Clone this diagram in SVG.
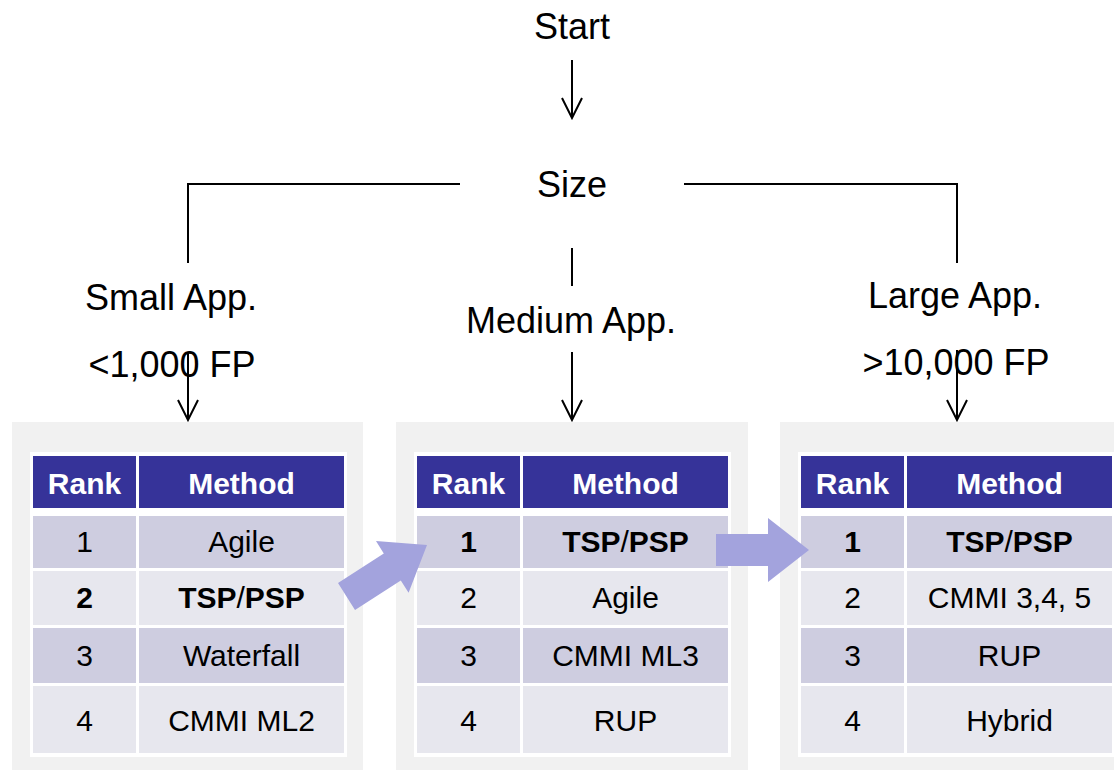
<svg xmlns="http://www.w3.org/2000/svg" width="1114" height="770" viewBox="0 0 1114 770">
<defs>
<style>
.lbl{font-family:"Liberation Sans",Arial,sans-serif;font-size:36px;fill:#000;text-anchor:middle}
.th{font-family:"Liberation Sans",Arial,sans-serif;font-size:30px;font-weight:bold;fill:#fff;text-anchor:middle}
.td{font-family:"Liberation Sans",Arial,sans-serif;font-size:30px;fill:#000;text-anchor:middle}
.b{font-weight:bold}
.n{font-weight:normal}
.panel{fill:#f1f1f1}
.tbl{fill:#ffffff}
.hd{fill:#363399}
.odd{fill:#cecde0}
.even{fill:#e7e7ee}
.ln{stroke:#000;stroke-width:2;fill:none}
.big{fill:#a3a3dd}
</style>
<marker id="v" viewBox="0 0 24 24" refX="22" refY="12" markerWidth="24" markerHeight="24" markerUnits="userSpaceOnUse" orient="auto">
<path d="M2,2 L22,12 L2,22" fill="none" stroke="#000" stroke-width="2"/>
</marker>
</defs>
<rect width="1114" height="770" fill="#fff"/>

<g id="start"><text class="lbl" x="572" y="39">Start</text></g>
<g id="size"><text class="lbl" x="572" y="197">Size</text></g>
<g id="small"><text class="lbl" x="171" y="310">Small App.</text><text class="lbl" x="172" y="377">&lt;1,000 FP</text></g>
<g id="medium"><text class="lbl" x="571" y="333">Medium App.</text></g>
<g id="large"><text class="lbl" x="955" y="308">Large App.</text><text class="lbl" x="956" y="375">&gt;10,000 FP</text></g>

<g id="connectors">
<path class="ln" d="M572,60 L572,118" marker-end="url(#v)"/>
<path class="ln" d="M460,184 L188,184 L188,263"/>
<path class="ln" d="M684,184 L957,184 L957,263"/>
<path class="ln" d="M572,248 L572,286"/>
<path class="ln" d="M188,352 L188,420" marker-end="url(#v)"/>
<path class="ln" d="M572,352 L572,420" marker-end="url(#v)"/>
<path class="ln" d="M957,350 L957,420" marker-end="url(#v)"/>
</g>

<g id="table-small">
<rect class="panel" x="12" y="422" width="351" height="348"/>
<rect class="tbl" x="30" y="452" width="317" height="305"/>
<rect class="hd" x="33" y="456" width="103" height="52"/><rect class="hd" x="139" y="456" width="205" height="52"/>
<rect class="odd" x="33" y="516" width="103" height="52"/><rect class="odd" x="139" y="516" width="205" height="52"/>
<rect class="even" x="33" y="571" width="103" height="54"/><rect class="even" x="139" y="571" width="205" height="54"/>
<rect class="odd" x="33" y="628" width="103" height="55"/><rect class="odd" x="139" y="628" width="205" height="55"/>
<rect class="even" x="33" y="686" width="103" height="67"/><rect class="even" x="139" y="686" width="205" height="67"/>
<text class="th" x="84.5" y="494">Rank</text><text class="th" x="241.5" y="494">Method</text>
<text class="td" x="84.5" y="552">1</text><text class="td" x="241.5" y="552">Agile</text>
<text class="td b" x="84.5" y="608">2</text><text class="td b" x="241.5" y="608">TSP<tspan class="n">/</tspan>PSP</text>
<text class="td" x="84.5" y="666">3</text><text class="td" x="241.5" y="666">Waterfall</text>
<text class="td" x="84.5" y="731">4</text><text class="td" x="241.5" y="731">CMMI ML2</text>
</g>

<g id="table-medium">
<rect class="panel" x="396" y="422" width="352" height="348"/>
<rect class="tbl" x="414" y="452" width="317" height="305"/>
<rect class="hd" x="417" y="456" width="103" height="52"/><rect class="hd" x="523" y="456" width="205" height="52"/>
<rect class="odd" x="417" y="516" width="103" height="52"/><rect class="odd" x="523" y="516" width="205" height="52"/>
<rect class="even" x="417" y="571" width="103" height="54"/><rect class="even" x="523" y="571" width="205" height="54"/>
<rect class="odd" x="417" y="628" width="103" height="55"/><rect class="odd" x="523" y="628" width="205" height="55"/>
<rect class="even" x="417" y="686" width="103" height="67"/><rect class="even" x="523" y="686" width="205" height="67"/>
<text class="th" x="468.5" y="494">Rank</text><text class="th" x="625.5" y="494">Method</text>
<text class="td b" x="468.5" y="552">1</text><text class="td b" x="625.5" y="552">TSP<tspan class="n">/</tspan>PSP</text>
<text class="td" x="468.5" y="608">2</text><text class="td" x="625.5" y="608">Agile</text>
<text class="td" x="468.5" y="666">3</text><text class="td" x="625.5" y="666">CMMI ML3</text>
<text class="td" x="468.5" y="731">4</text><text class="td" x="625.5" y="731">RUP</text>
</g>

<g id="table-large">
<rect class="panel" x="780" y="422" width="334" height="348"/>
<rect class="tbl" x="798" y="452" width="316" height="305"/>
<rect class="hd" x="801" y="456" width="103" height="52"/><rect class="hd" x="907" y="456" width="205" height="52"/>
<rect class="odd" x="801" y="516" width="103" height="52"/><rect class="odd" x="907" y="516" width="205" height="52"/>
<rect class="even" x="801" y="571" width="103" height="54"/><rect class="even" x="907" y="571" width="205" height="54"/>
<rect class="odd" x="801" y="628" width="103" height="55"/><rect class="odd" x="907" y="628" width="205" height="55"/>
<rect class="even" x="801" y="686" width="103" height="67"/><rect class="even" x="907" y="686" width="205" height="67"/>
<text class="th" x="852.5" y="494">Rank</text><text class="th" x="1009.5" y="494">Method</text>
<text class="td b" x="852.5" y="552">1</text><text class="td b" x="1009.5" y="552">TSP<tspan class="n">/</tspan>PSP</text>
<text class="td" x="852.5" y="608">2</text><text class="td" x="1009.5" y="608">CMMI 3,4, 5</text>
<text class="td" x="852.5" y="666">3</text><text class="td" x="1009.5" y="666">RUP</text>
<text class="td" x="852.5" y="731">4</text><text class="td" x="1009.5" y="731">Hybrid</text>
</g>

<g id="big-arrows">
<polygon class="big" points="338,583 383.8,553.4 376,541.1 427,545 408.6,592.7 400.8,580.4 355,610"/>
<polygon class="big" points="716,534 768,534 768,518 809,550 768,582 768,566 716,566"/>
</g>
</svg>
